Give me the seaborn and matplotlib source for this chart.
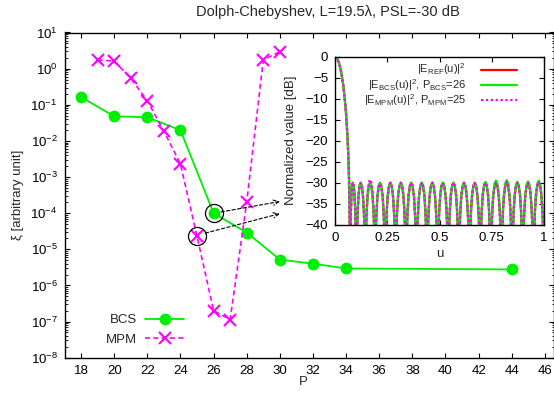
import numpy as np
import pandas as pd
import matplotlib
matplotlib.use("Agg")
import matplotlib.pyplot as plt
import seaborn as sns
from matplotlib.ticker import LogLocator, LogFormatterMathtext, NullFormatter, FixedLocator

# ---------------- data: main plot ----------------
bcs_p = [18, 20, 22, 24, 26, 28, 30, 32, 34, 44]
bcs_xi = [0.163, 0.048, 0.045, 0.0198, 1.0e-4, 2.9e-5, 5.2e-6, 4.0e-6, 2.95e-6, 2.77e-6]
mpm_p = [19, 20, 21, 22, 23, 24, 25, 26, 27, 28, 29, 30]
mpm_xi = [1.73, 1.62, 0.54, 0.129, 0.0186, 0.0023, 2.3e-5, 2.0e-7, 1.14e-7, 2.0e-4, 1.73, 2.95]
x_ticks = list(range(18, 47, 2))
y_ticks = [1e-8, 1e-7, 1e-6, 1e-5, 1e-4, 1e-3, 1e-2, 1e-1, 1e0, 1e1]

# ---------------- data: inset pattern ----------------
main_lobe_u = [0.0, 0.01, 0.02, 0.03, 0.04, 0.05, 0.055, 0.06, 0.065, 0.068, 0.070]
main_lobe_db = [0.0, -0.39, -1.61, -3.74, -6.98, -11.78, -15.04, -19.3, -25.3, -31.0, -37.4]
null_u = [0.0723, 0.1023, 0.1447, 0.1915, 0.2400, 0.2895, 0.3397, 0.3898, 0.4403, 0.4909,
          0.5415, 0.5920, 0.6430, 0.6942, 0.7449, 0.7959, 0.8471, 0.8980, 0.9490, 1.0000]
peak_u = [0.0848, 0.1226, 0.1677, 0.2152, 0.2649, 0.3147, 0.3646, 0.4150, 0.4656, 0.5162,
          0.5667, 0.6172, 0.6687, 0.7196, 0.7701, 0.8216, 0.8725, 0.9235, 0.9745]
ref_peak_db = [-30.0] * 19
bcs_peak_db = [-30.2, -30.0, -30.0, -30.1, -30.0, -30.0, -30.0, -30.0, -30.0, -30.0,
               -30.0, -30.0, -30.0, -29.8, -29.5, -29.4, -29.8, -29.7, -29.5]
mpm_peak_db = [-30.0, -30.1, -29.2, -30.2, -30.0, -30.0, -30.0, -30.0, -30.0, -30.0,
               -30.0, -30.0, -30.1, -30.0, -29.9, -29.8, -30.0, -30.0, -29.8]
# lobe profile: fraction of half-width from peak, and drop in dB
lobe_frac = [0.9, 0.8, 0.7, 0.5, 0.25]
lobe_drop = [-16.1, -10.2, -6.9, -3.0, -0.7]
null_db = -60.0


def pattern(peak_db):
    u = list(main_lobe_u)
    d = list(main_lobe_db)
    for k, (pu, pdb) in enumerate(zip(peak_u, peak_db)):
        left, right = null_u[k], null_u[k + 1]
        u.append(left); d.append(null_db)
        for f, dr in zip(lobe_frac, lobe_drop):
            u.append(pu - f * (pu - left)); d.append(pdb + dr)
        u.append(pu); d.append(pdb)
        for f, dr in zip(lobe_frac[::-1], lobe_drop[::-1]):
            u.append(pu + f * (right - pu)); d.append(pdb + dr)
    u.append(null_u[-1]); d.append(null_db)
    return pd.DataFrame({"u": u, "db": d})


GREEN = "#00ee00"
MAGENTA = "#ff00ff"
RED = "#ff0000"
FS = 9.5
DASH = (0, (3, 2))
DOT = (0, (1, 1.2))

sns.set_style("ticks")
plt.rcParams["font.family"] = ["Liberation Sans", "DejaVu Sans"]
plt.rcParams["mathtext.default"] = "regular"
plt.rcParams["mathtext.fontset"] = "custom"
plt.rcParams["mathtext.rm"] = "Liberation Sans"
plt.rcParams["font.size"] = FS

fig = plt.figure(figsize=(5.54, 4.0), dpi=100)
W, H = 554.0, 400.0

# main axes
ax = fig.add_axes([64.5 / W, (H - 357.7) / H, (W - 64.5) / W, (357.7 - 32.5) / H])
ax.set_yscale("log")
df_bcs = pd.DataFrame({"P": bcs_p, "xi": bcs_xi})
df_mpm = pd.DataFrame({"P": mpm_p, "xi": mpm_xi})
sns.lineplot(data=df_bcs, x="P", y="xi", ax=ax, color=GREEN, lw=1.3, marker="o",
             markersize=8.5, markeredgewidth=0, markeredgecolor=GREEN, label="BCS",
             estimator=None)
sns.lineplot(data=df_mpm, x="P", y="xi", ax=ax, color=MAGENTA, lw=1.2, marker="x",
             markersize=8.5, markeredgewidth=1.5, markeredgecolor=MAGENTA, label="MPM",
             estimator=None)
ax.lines[1].set_linestyle(DASH)

# highlight circles on the selected points
ax.plot([bcs_p[4]], [bcs_xi[4]], "o", mfc="none", mec="black", ms=13, mew=0.9)
ax.plot([mpm_p[6]], [mpm_xi[6]], "o", mfc="none", mec="black", ms=13, mew=0.9)
ax.annotate("", xy=(30.0, 2.1e-4), xytext=(26.45, 1.08e-4),
            arrowprops=dict(arrowstyle="->", ls=(0, (3, 2)), color="black", lw=0.8,
                            shrinkA=0, shrinkB=0))
ax.annotate("", xy=(30.0, 9.7e-5), xytext=(25.5, 2.8e-5),
            arrowprops=dict(arrowstyle="->", ls=(0, (3, 2)), color="black", lw=0.8,
                            shrinkA=0, shrinkB=0))

ax.set_xlim(17, 46.55)
ax.set_ylim(1e-8, 1e1)
ax.set_xticks(x_ticks)
ax.yaxis.set_major_locator(FixedLocator(y_ticks))
ax.yaxis.set_major_formatter(LogFormatterMathtext())
ax.yaxis.set_minor_locator(LogLocator(base=10, subs=np.arange(2, 10), numticks=20))
ax.yaxis.set_minor_formatter(NullFormatter())
ax.tick_params(which="both", direction="in", top=True, right=True, colors="black",
               labelsize=FS)
ax.tick_params(which="major", length=3.4, width=0.8, pad=5)
ax.tick_params(which="minor", length=1.8, width=0.6)
for s in ax.spines.values():
    s.set_linewidth(1.0)
    s.set_color("black")
ax.set_xlabel("")
ax.set_ylabel("")
fig.text(303 / W, 1 - 382 / H, "P", ha="center", va="center", fontsize=FS)
fig.text(18 / W, 1 - 195 / H, "ξ [arbitrary unit]", ha="center", va="center",
         rotation=90, fontsize=FS)
fig.text(328 / W, 1 - 12 / H, "Dolph-Chebyshev, L=19.5λ, PSL=-30 dB", ha="center",
         va="center", fontsize=10.5)

leg = ax.legend(loc="lower left", bbox_to_anchor=(0.06, 0.0), frameon=False,
                markerfirst=False, handlelength=3.0, handletextpad=0.6,
                labelspacing=0.55, fontsize=FS)
leg.get_lines()[1].set_linestyle(DASH)

# inset axes
axi = fig.add_axes([335 / W, (H - 224.7) / H, 209 / W, 168 / H])
axi.set_facecolor("white")
sns.lineplot(data=pattern(ref_peak_db), x="u", y="db", ax=axi, color=RED, lw=1.6,
             sort=False, estimator=None, label=r"$|E_{REF}(u)|^2$")
sns.lineplot(data=pattern(bcs_peak_db), x="u", y="db", ax=axi, color=GREEN, lw=1.6,
             sort=False, estimator=None, label=r"$|E_{BCS}(u)|^2$, $P_{BCS}$=26")
sns.lineplot(data=pattern(mpm_peak_db), x="u", y="db", ax=axi, color=MAGENTA, lw=1.6,
             sort=False, estimator=None, label=r"$|E_{MPM}(u)|^2$, $P_{MPM}$=25")
axi.lines[2].set_linestyle(DOT)
axi.set_xlim(0, 1)
axi.set_ylim(-40, 0)
axi.set_xticks([0, 0.25, 0.5, 0.75, 1])
axi.set_xticklabels(["0", "0.25", "0.5", "0.75", "1"])
axi.set_yticks([0, -5, -10, -15, -20, -25, -30, -35, -40])
axi.tick_params(which="both", direction="in", top=True, right=True, colors="black",
                labelsize=FS, length=3.4, width=0.8, pad=5)
for s in axi.spines.values():
    s.set_linewidth(1.0)
    s.set_color("black")
axi.set_xlabel("u", fontsize=FS, labelpad=3)
axi.set_ylabel("Normalized value [dB]", fontsize=FS, labelpad=6)
legi = axi.legend(loc="upper right", bbox_to_anchor=(0.92, 1.03), frameon=False,
                  markerfirst=False, handlelength=3.3, handletextpad=1.3,
                  labelspacing=-0.05, fontsize=8)
legi.get_lines()[2].set_linestyle(DOT)

fig.savefig("out.png", dpi=100)
